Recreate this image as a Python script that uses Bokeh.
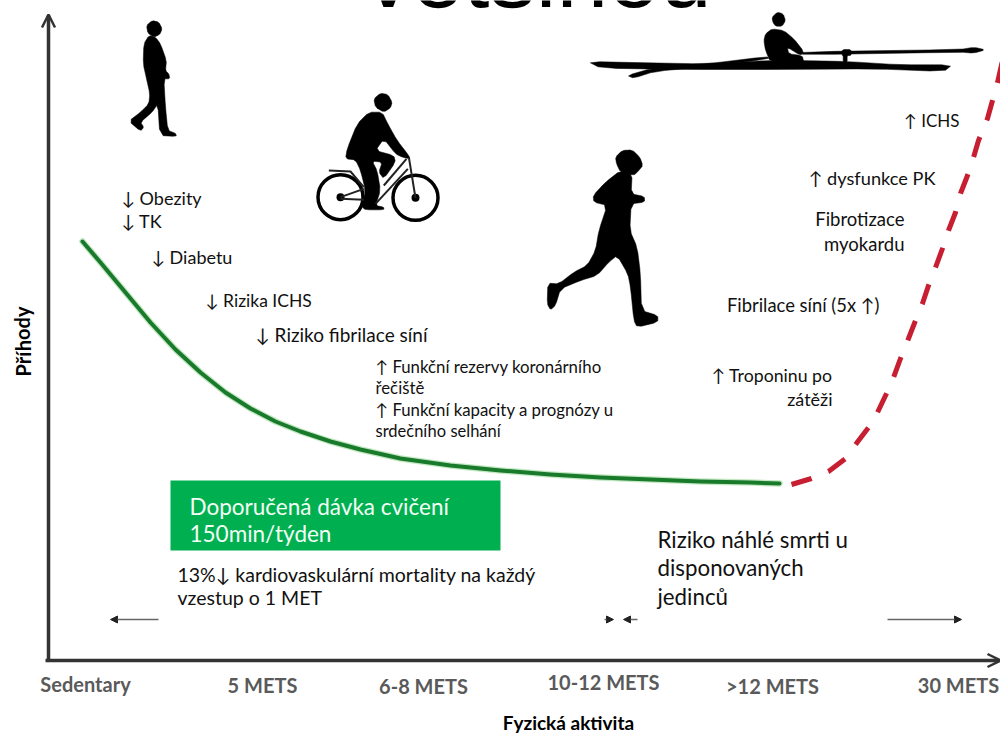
from bokeh.embed import file_html
from bokeh.models import Arrow, NormalHead, OpenHead, Range1d
from bokeh.plotting import figure
from bokeh.core.properties import value
from bokeh.resources import INLINE

WIDTH, HEIGHT = 1000, 733

# Risk curve: favourable part of the dose-response relation
benefit_x = [82, 100, 125, 150, 175, 200, 225, 250, 275, 300, 330, 360, 400, 450, 500, 550, 600, 650, 700, 750, 779]
benefit_y = [241, 262, 292, 322, 349, 372, 392, 408, 421, 431, 441, 449, 458, 465, 470, 474, 477, 479, 481, 482, 483]

# Risk curve: harmful part at extreme doses
harm_x = [791, 811, 828, 845, 855, 868, 877, 886, 893, 900, 908, 915, 922, 928, 935, 942, 948, 955, 960, 967, 973, 978, 987, 992, 997, 1002]
harm_y = [484, 478, 471, 458, 444, 427, 412, 393, 377, 358, 338, 320, 303, 285, 267, 248, 230, 212, 193, 175, 157, 140, 118, 100, 82, 60]

tick_labels = ["Sedentary", "5 METS", "6-8 METS", "10-12 METS", ">12 METS", "30 METS"]
tick_x = [85, 262, 423, 603, 772, 958]
tick_y = [683, 684, 685, 681, 685, 684]

left_notes = ["↓ Obezity", "↓ TK", "↓ Diabetu", "↓ Rizika ICHS", "↓ Riziko fibrilace síní"]
left_notes_x = [121, 121, 151, 205, 255]
left_notes_y = [197, 220, 256, 300, 334]
left_notes_size = [18, 18, 18, 17.5, 19]

middle_notes = ["↑ Funkční rezervy koronárního", "řečiště", "↑ Funkční kapacity a prognózy  u", "srdečního selhání"]
middle_notes_x = [375, 375, 375, 375]
middle_notes_y = [366, 387, 409, 430]
middle_notes_size = [16.8, 16.8, 16.8, 16.5]

right_notes = ["↑ ICHS", "↑ dysfunkce PK", "Fibrotizace", "myokardu", "Fibrilace síní (5x ↑)", "↑ Troponinu po", "zátěži"]
right_notes_x = [959, 935, 904, 904, 879, 832, 832]
right_notes_y = [120, 177, 218, 243, 304, 375, 398]
right_notes_size = [17, 18.2, 18.5, 18.5, 18.4, 17.7, 18]

mortality_lines = ["13%↓ kardiovaskulární mortality na každý", "vzestup o 1 MET"]
mortality_y = [574, 597]
dose_lines = ["Doporučená dávka cvičení", "150min/týden"]
dose_y = [506, 533]
death_lines = ["Riziko náhlé smrti u", "disponovaných", "jedinců"]
death_y = [539, 567, 596]

# Silhouette outlines, in units of a third of a pixel, relative to each origin
walker_origin = (110, 10)
walker_head = [(108, 45), (125, 30), (145, 35), (155, 55), (148, 72), (130, 80), (112, 68)]
walker_body = [(115, 75), (100, 100), (98, 160), (108, 205), (118, 250), (115, 280), (90, 305), (55, 332),
               (90, 362), (100, 350), (90, 335), (125, 305), (142, 280), (148, 375), (198, 378), (195, 368),
               (172, 360), (165, 290), (160, 205), (178, 205), (175, 190), (165, 180), (168, 150), (150, 100), (135, 80)]

cyclist_origin = (300, 90)
cyclist_head = [(220, 25), (240, 8), (262, 12), (275, 35), (270, 52), (250, 65), (225, 50)]
cyclist_body = [(205, 65), (245, 65), (262, 100), (290, 150), (325, 195), (328, 205), (305, 200), (285, 190),
                (250, 145), (225, 180), (280, 195), (285, 215), (250, 265), (235, 245), (245, 215), (215, 212),
                (230, 240), (240, 300), (225, 345), (250, 350), (250, 358), (195, 358), (185, 350), (195, 300),
                (180, 240), (165, 208), (135, 205), (140, 175), (170, 100)]
cyclist_wheel_x = [120, 345]
cyclist_wheel_y = [320, 322]
cyclist_frame = [[(120, 320), (190, 295)], [(120, 325), (190, 328)], [(325, 200), (345, 322)],
                 [(318, 205), (250, 285)], [(322, 235), (225, 340)], [(85, 240), (150, 243), (190, 290)]]

runner_origin = (540, 140)
runner_head = [(225, 50), (245, 30), (275, 28), (298, 50), (307, 75), (295, 90), (280, 105), (240, 95), (228, 70)]
runner_body = [(240, 90), (275, 100), (272, 160), (312, 168), (312, 185), (272, 190), (268, 270), (290, 320),
               (300, 400), (303, 510), (352, 525), (352, 545), (290, 560), (280, 540), (270, 440), (262, 400),
               (230, 345), (205, 365), (170, 405), (120, 420), (60, 445), (45, 495), (30, 508), (20, 490),
               (22, 428), (55, 430), (100, 395), (140, 375), (165, 330), (175, 270), (200, 195), (160, 185),
               (158, 165), (195, 125)]

rower_origin = (580, 5)
rower_head = [(575, 35), (590, 20), (608, 25), (615, 45), (605, 62), (585, 62), (577, 50)]
rower_torso = [(575, 70), (610, 75), (640, 100), (670, 138), (660, 150), (620, 125), (625, 145), (665, 150),
               (670, 170), (570, 170), (555, 135), (550, 105), (555, 85)]
rower_hull = [(22, 168), (200, 172), (370, 175), (560, 165), (660, 165), (800, 168), (960, 178), (1115, 178),
              (1090, 198), (880, 190), (620, 192), (300, 192), (60, 188)]
rower_oar_back = [(560, 153), (370, 176), (215, 188), (140, 210), (160, 218), (222, 198), (370, 184), (565, 160)]
rower_oar_front = [(665, 139), (1140, 132), (1180, 125), (1215, 133), (1180, 143), (1140, 140), (665, 148)]
rower_rigger = [(785, 132), (812, 132), (812, 150), (800, 150), (800, 170), (788, 170), (788, 150), (785, 150)]


def rounded(outline, passes=1):
    """Chaikin corner cutting, so that the outlines read as soft shapes."""
    pts = list(outline)
    for _ in range(passes):
        out = []
        for i, (ax, ay) in enumerate(pts):
            bx, by = pts[(i + 1) % len(pts)]
            out.append((0.8 * ax + 0.2 * bx, 0.8 * ay + 0.2 * by))
            out.append((0.2 * ax + 0.8 * bx, 0.2 * ay + 0.8 * by))
        pts = out
    return pts


def to_page(outline, origin):
    xs = [origin[0] + px / 3 for px, _ in outline]
    ys = [origin[1] + py / 3 for _, py in outline]
    return xs, ys


p = figure(width=WIDTH, height=HEIGHT, output_backend="svg", toolbar_location=None,
           x_range=Range1d(0, WIDTH), y_range=Range1d(HEIGHT, 0), x_axis_type=None, y_axis_type=None,
           min_border=0, outline_line_color=None, background_fill_color="white", border_fill_color="white")
p.grid.visible = False

BODY_FONT = value("Lato")
INK = "#111111"


def write(texts, xs, ys, size, color=INK, align="left", style="normal", font=BODY_FONT, angle=0):
    p.text(x=xs, y=ys, text=texts, text_font=font, text_font_size=f"{size}px", text_color=color,
           text_align=align, text_baseline="middle", text_font_style=style, angle=angle)


def write_lines(texts, xs, ys, sizes, **style):
    for text, x, y, size in zip(texts, xs, ys, sizes):
        write([text], [x], [y], size, **style)


# Oversized heading, almost entirely above the page edge
p.text(x=[538], y=[-26], text=["většinou"], text_font=value("Liberation Sans"), text_font_size="93px",
       text_color="black", text_align="center", text_baseline="alphabetic")

# Axes with open arrow heads
axis_color = "#333333"
p.line([48, 48], [660, 15], line_color=axis_color, line_width=3.5)
p.line([45, 998], [660, 660], line_color=axis_color, line_width=3.5)
p.add_layout(Arrow(end=OpenHead(size=13, line_color=axis_color, line_width=2.5), x_start=48, y_start=40, x_end=48, y_end=14,
                   line_color=axis_color, line_width=3))
p.add_layout(Arrow(end=OpenHead(size=13, line_color=axis_color, line_width=2.5), x_start=975, y_start=660, x_end=1000, y_end=660,
                   line_color=axis_color, line_width=3))

# Dose range arrows under the curve
for x0, x1 in [(158, 110), (604, 613), (637, 623), (887, 961)]:
    p.add_layout(Arrow(end=NormalHead(size=7, fill_color="#222222", line_color="#222222"), x_start=x0, y_start=619,
                       x_end=x1, y_end=619, line_color="#666666", line_width=1.5))

# Recommended dose box
p.quad(left=[170], right=[500], top=[480], bottom=[550], fill_color="#00b050", line_color=None)

# Risk curve, with the soft light halo around the green stroke
p.line(benefit_x, benefit_y, line_color="#9ad99a", line_width=6.5, line_alpha=0.6, line_cap="round", line_join="round")
p.line(benefit_x, benefit_y, line_color="#197a2b", line_width=4, line_cap="round", line_join="round")
p.line(harm_x, harm_y, line_color="#c81e32", line_width=5, line_dash="21 18")

# Silhouettes
for outlines, origin in [((walker_head, walker_body), walker_origin),
                         ((cyclist_head, cyclist_body), cyclist_origin),
                         ((runner_head, runner_body), runner_origin),
                         ((rower_head, rower_torso, rower_hull, rower_oar_back, rower_oar_front, rower_rigger), rower_origin)]:
    for outline in outlines:
        xs, ys = to_page(rounded(outline), origin)
        p.patch(xs, ys, fill_color="black", line_color="black", line_width=0.5)

wheel_xs = [cyclist_origin[0] + wx / 3 for wx in cyclist_wheel_x]
wheel_ys = [cyclist_origin[1] + wy / 3 for wy in cyclist_wheel_y]
p.circle(wheel_xs, wheel_ys, radius=22.5, radius_units="screen", fill_color=None, line_color="black", line_width=3.5)
p.circle(wheel_xs, wheel_ys, radius=4, radius_units="screen", fill_color="black", line_color=None)
for tube in cyclist_frame:
    xs, ys = to_page(tube, cyclist_origin)
    p.line(xs, ys, line_color="#222222", line_width=2)

# Annotations
write_lines(left_notes, left_notes_x, left_notes_y, left_notes_size)
write_lines(middle_notes, middle_notes_x, middle_notes_y, middle_notes_size)
write_lines(right_notes, right_notes_x, right_notes_y, right_notes_size, align="right")
write(mortality_lines, [177, 177], mortality_y, 19.5)
write(dose_lines, [189, 189], dose_y, 22.5, color="#f4fff6")
write(death_lines, [657, 657, 657], death_y, 22.3)

# Category labels and axis titles
write(tick_labels, tick_x, tick_y, 20, color="#5a5a5a", align="center", style="bold")
write(["Fyzická aktivita"], [568], [722], 19, color="black", align="center", style="bold")
write(["Příhody"], [22], [341], 20, color="black", align="center", style="bold", angle=1.5708)

open("out.html", "w").write(file_html(p, INLINE))
